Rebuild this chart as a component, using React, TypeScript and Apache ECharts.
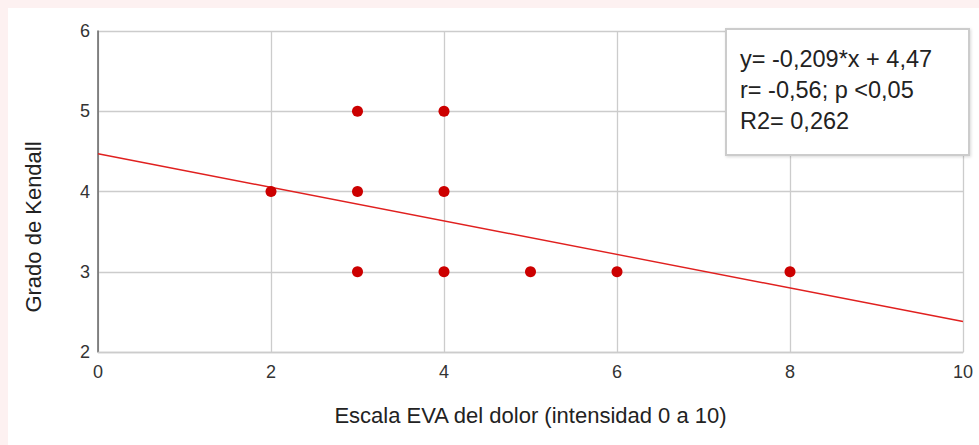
import React, { useEffect, useRef } from "react";
import * as echarts from "echarts";

// Observed pairs: EVA pain scale (x) vs Kendall grade (y)
const evaScores = [2, 3, 3, 3, 4, 4, 4, 5, 6, 8];
const kendallGrades = [4, 5, 4, 3, 5, 4, 3, 3, 3, 3];

// Linear fit y = slope * x + intercept
const slope = -0.209;
const intercept = 4.47;
const fitRange = [0, 10];

const statLines = ["y= -0,209*x + 4,47", "r= -0,56; p <0,05", "R2= 0,262"];
const yTitle = "Grado de Kendall";

const xTicks = [0, 2, 4, 6, 8, 10];
const yTicks = [2, 3, 4, 5, 6];

export default function App() {
  const ref = useRef<HTMLDivElement>(null);

  useEffect(() => {
    document.body.style.margin = "0";
    const chart = echarts.init(ref.current!, undefined, { renderer: "svg" });
    const font = "'Liberation Sans', Arial, sans-serif";
    const points = evaScores.map((x, i) => [x, kendallGrades[i]]);
    const fit = fitRange.map((x) => [x, slope * x + intercept]);
    chart.setOption({
      animation: false,
      backgroundColor: "#ffffff",
      grid: { left: 90, right: 16, top: 23, bottom: 93 },
      xAxis: {
        type: "value",
        min: xTicks[0],
        max: xTicks[xTicks.length - 1],
        interval: 2,
        name: "Escala EVA del dolor (intensidad 0 a 10)",
        nameLocation: "middle",
        nameGap: 52,
        nameTextStyle: { fontSize: 22, color: "#222", fontFamily: font },
        axisLine: { show: true, lineStyle: { color: "#cccccc", width: 1.3 } },
        axisTick: { show: false },
        axisLabel: { fontSize: 18, color: "#333", fontFamily: font, margin: 11 },
        splitLine: { show: true, lineStyle: { color: "#cccccc", width: 1.3 } },
      },
      yAxis: {
        type: "value",
        min: yTicks[0],
        max: yTicks[yTicks.length - 1],
        interval: 1,
        axisLine: { show: true, lineStyle: { color: "#666666", width: 1.5 } },
        axisTick: { show: false },
        axisLabel: { fontSize: 18, color: "#333", fontFamily: font, margin: 8 },
        splitLine: { show: true, lineStyle: { color: "#cccccc", width: 1.3 } },
      },
      series: [
        {
          type: "line",
          data: fit,
          symbol: "none",
          lineStyle: { color: "#e0201f", width: 1.4 },
          z: 2,
        },
        {
          type: "scatter",
          data: points,
          symbolSize: 11,
          itemStyle: { color: "#cc0000", opacity: 1 },
          z: 3,
        },
      ],
      graphic: [
        {
          type: "text",
          x: 25,
          y: 219,
          rotation: Math.PI / 2,
          z: 100,
          style: {
            text: yTitle,
            fontSize: 22,
            fill: "#222",
            fontFamily: font,
            align: "center",
            verticalAlign: "middle",
          },
        },
        {
          type: "rect",
          x: 718,
          y: 21,
          z: 100,
          shape: { x: 0, y: 0, width: 243, height: 126 },
          style: {
            fill: "#ffffff",
            stroke: "#cccccc",
            lineWidth: 2,
            shadowBlur: 3,
            shadowColor: "rgba(0,0,0,0.15)",
            shadowOffsetX: 1,
            shadowOffsetY: 1,
          },
        },
        ...statLines.map((t, i) => ({
          type: "text",
          x: 732,
          y: 51 + i * 31,
          z: 101,
          style: {
            text: t,
            fontSize: 23.5,
            fill: "#222",
            fontFamily: font,
            verticalAlign: "middle",
          },
        })),
      ],
    });
    return () => chart.dispose();
  }, []);

  return (
    <div
      style={{
        position: "relative",
        width: 979,
        height: 445,
        background: "#fdf1f1",
        overflow: "hidden",
      }}
    >
      <div
        ref={ref}
        style={{ position: "absolute", left: 8, top: 8, width: 971, height: 437 }}
      />
    </div>
  );
}
